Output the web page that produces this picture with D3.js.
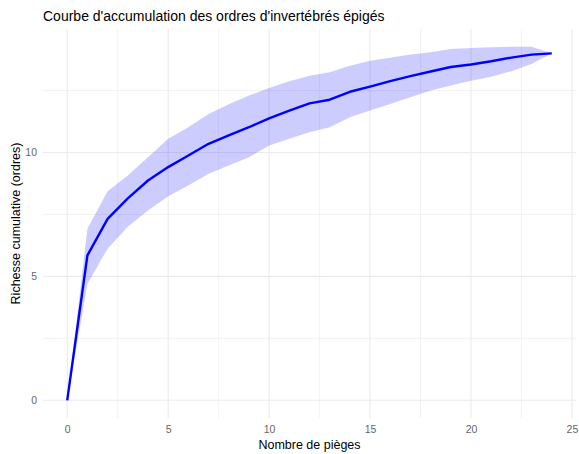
<!DOCTYPE html>
<html>
<head>
<meta charset="utf-8">
<script src="https://cdn.jsdelivr.net/npm/d3@7"></script>
<style>
  body { margin: 0; background: #fff; }
  svg { display: block; font-family: "Liberation Sans", Arial, sans-serif; }
</style>
</head>
<body>
<div id="chart"></div>
<script>
const width = 579;
const height = 454;

// nombre de pièges échantillonnés
const traps = [0, 1, 2, 3, 4, 5, 6, 7, 8, 9, 10, 11, 12, 13, 14, 15, 16, 17, 18, 19, 20, 21, 22, 23, 24];
// richesse cumulative moyenne
const richness = [0, 5.85, 7.32, 8.15, 8.87, 9.41, 9.88, 10.35, 10.69, 11.02, 11.38, 11.69, 11.98, 12.13, 12.45,
  12.66, 12.88, 13.08, 13.27, 13.45, 13.55, 13.68, 13.83, 13.95, 14.0];
const upper = [0, 6.92, 8.44, 9.07, 9.81, 10.55, 11.02, 11.55, 11.95, 12.3, 12.6, 12.88, 13.1, 13.24, 13.5,
  13.7, 13.82, 13.95, 14.05, 14.18, 14.22, 14.25, 14.27, 14.27, 14.0];
const lower = [0, 4.7, 6.12, 7.0, 7.66, 8.23, 8.67, 9.14, 9.48, 9.81, 10.28, 10.55, 10.82, 11.02, 11.42,
  11.69, 11.96, 12.23, 12.5, 12.7, 12.9, 13.06, 13.28, 13.57, 14.0];

const xTicks = [0, 5, 10, 15, 20, 25];
const xMinor = [2.5, 7.5, 12.5, 17.5, 22.5];
const yTicks = [0, 5, 10];
const yMinor = [2.5, 7.5, 12.5];

const data = traps.map((t, i) => ({ x: t, y: richness[i], lo: lower[i], hi: upper[i] }));

const panel = { left: 43, right: 576, top: 29, bottom: 418 };

// expansion façon ggplot (5 %)
const xr = d3.extent(traps);
const xPad = (xr[1] - xr[0]) * 0.05;
const yMax = d3.max(upper);
const yPad = yMax * 0.05;

const x = d3.scaleLinear()
  .domain([xr[0] - xPad, xr[1] + xPad])
  .range([panel.left, panel.right]);

const y = d3.scaleLinear()
  .domain([0 - yPad, yMax + yPad])
  .range([panel.bottom, panel.top]);

const svg = d3.select("#chart")
  .append("svg")
  .attr("width", width)
  .attr("height", height);

// grille
const grid = svg.append("g");
grid.selectAll("line.xminor")
  .data(xMinor)
  .join("line")
  .attr("x1", d => x(d)).attr("x2", d => x(d))
  .attr("y1", panel.top).attr("y2", panel.bottom)
  .attr("stroke", "#ebebeb")
  .attr("stroke-width", 0.6);
grid.selectAll("line.yminor")
  .data(yMinor)
  .join("line")
  .attr("y1", d => y(d)).attr("y2", d => y(d))
  .attr("x1", panel.left).attr("x2", panel.right)
  .attr("stroke", "#ebebeb")
  .attr("stroke-width", 0.6);
grid.selectAll("line.xmajor")
  .data(xTicks)
  .join("line")
  .attr("x1", d => x(d)).attr("x2", d => x(d))
  .attr("y1", panel.top).attr("y2", panel.bottom)
  .attr("stroke", "#ebebeb")
  .attr("stroke-width", 1.1);
grid.selectAll("line.ymajor")
  .data(yTicks)
  .join("line")
  .attr("y1", d => y(d)).attr("y2", d => y(d))
  .attr("x1", panel.left).attr("x2", panel.right)
  .attr("stroke", "#ebebeb")
  .attr("stroke-width", 1.1);

// bande d'incertitude
const area = d3.area()
  .x(d => x(d.x))
  .y0(d => y(d.lo))
  .y1(d => y(d.hi));

svg.append("path")
  .datum(data)
  .attr("d", area)
  .attr("fill", "#0000ff")
  .attr("fill-opacity", 0.2);

// courbe moyenne
const line = d3.line()
  .x(d => x(d.x))
  .y(d => y(d.y));

svg.append("path")
  .datum(data)
  .attr("d", line)
  .attr("fill", "none")
  .attr("stroke", "#0000ff")
  .attr("stroke-width", 2.4)
  .attr("stroke-linejoin", "round");

// axes
const xAxis = svg.append("g")
  .attr("transform", `translate(0,${panel.bottom})`)
  .call(d3.axisBottom(x).tickValues(xTicks).tickSize(0).tickPadding(8));
const yAxis = svg.append("g")
  .attr("transform", `translate(${panel.left},0)`)
  .call(d3.axisLeft(y).tickValues(yTicks).tickSize(0).tickPadding(6));

[xAxis, yAxis].forEach(g => {
  g.select(".domain").remove();
  g.selectAll("text")
    .attr("fill", "#666666")
    .style("font-size", "10.5px")
    .style("font-family", "\"Liberation Sans\", Arial, sans-serif");
});

// titres
svg.append("text")
  .attr("x", panel.left)
  .attr("y", 21)
  .attr("fill", "#000")
  .style("font-size", "14px")
  .text("Courbe d'accumulation des ordres d'invertébrés épigés");

svg.append("text")
  .attr("x", (panel.left + panel.right) / 2)
  .attr("y", 449)
  .attr("text-anchor", "middle")
  .attr("fill", "#000")
  .style("font-size", "12.5px")
  .text("Nombre de pièges");

svg.append("text")
  .attr("transform", `translate(20,${(panel.top + panel.bottom) / 2}) rotate(-90)`)
  .attr("text-anchor", "middle")
  .attr("fill", "#000")
  .style("font-size", "12.5px")
  .text("Richesse cumulative (ordres)");
</script>
</body>
</html>
